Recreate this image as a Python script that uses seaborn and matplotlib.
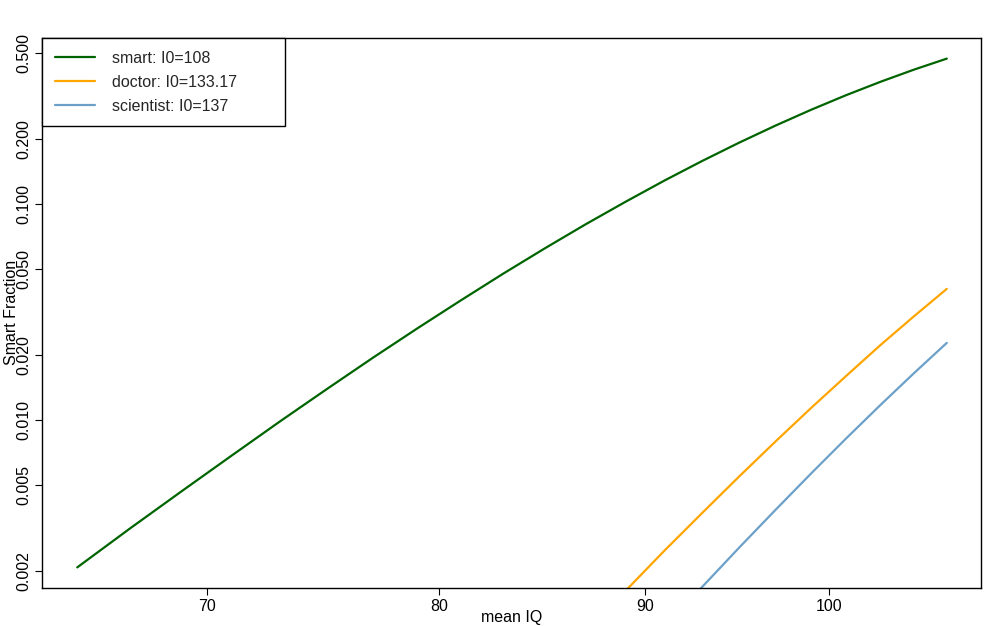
import matplotlib
matplotlib.use('Agg')
import matplotlib.pyplot as plt
import pandas as pd
import seaborn as sns

# values (log-log axes)
smart_iq = [65, 67, 69, 71, 73, 75, 77, 79, 81, 83, 85, 87, 89, 91, 93, 95, 97, 99, 101, 103, 105, 107]
smart_frac = [0.00207, 0.00314, 0.00466, 0.00681, 0.00982, 0.0139, 0.0194, 0.0266, 0.0359, 0.0478,
              0.0626, 0.0808, 0.1026, 0.1286, 0.1587, 0.1931, 0.2317, 0.2743, 0.3204, 0.3694,
              0.4207, 0.4734]

doctor_iq = [87, 89, 91, 93, 95, 97, 99, 101, 103, 105, 107]
doctor_frac = [0.00104, 0.00161, 0.00247, 0.00370, 0.00547, 0.00795, 0.01137, 0.01598, 0.0222,
               0.0302, 0.0405]

scientist_iq = [91, 93, 95, 97, 99, 101, 103, 105, 107]
scientist_frac = [0.00108, 0.00168, 0.00256, 0.00383, 0.00565, 0.00820, 0.01171, 0.01645, 0.02275]

labels = ['smart: I0=108', 'doctor: I0=133.17', 'scientist: I0=137']
colors = ['#006400', '#FFA500', '#6CA0C8']

x_ticks = [70, 80, 90, 100]
y_ticks = [0.5, 0.2, 0.1, 0.05, 0.02, 0.01, 0.005, 0.002]
y_ticklabels = ['0.500', '0.200', '0.100', '0.050', '0.020', '0.010', '0.005', '0.002']

df = pd.concat([
    pd.DataFrame({'iq': smart_iq, 'frac': smart_frac, 'group': labels[0]}),
    pd.DataFrame({'iq': doctor_iq, 'frac': doctor_frac, 'group': labels[1]}),
    pd.DataFrame({'iq': scientist_iq, 'frac': scientist_frac, 'group': labels[2]}),
])

sns.set_theme(style='white')
plt.rcParams['font.family'] = ['Liberation Sans', 'DejaVu Sans']

fig = plt.figure(figsize=(10, 6.26), dpi=100)
ax = fig.add_axes([0.042, 0.0615, 0.9387, 0.8773])

sns.lineplot(data=df, x='iq', y='frac', hue='group', hue_order=labels,
             palette=colors, linewidth=1.6, ax=ax, legend=True)

ax.set_xscale('log')
ax.set_yscale('log')
ax.set_xlim(63.7, 109.1)
ax.set_ylim(0.00167, 0.588)

ax.xaxis.set_major_locator(matplotlib.ticker.FixedLocator(x_ticks))
ax.xaxis.set_minor_locator(matplotlib.ticker.NullLocator())
ax.set_xticklabels([str(t) for t in x_ticks])
ax.yaxis.set_major_locator(matplotlib.ticker.FixedLocator(y_ticks))
ax.yaxis.set_minor_locator(matplotlib.ticker.NullLocator())
ax.set_yticklabels(y_ticklabels, rotation=90, va='center')

ax.tick_params(axis='both', which='major', length=5, width=0.8, color='black',
               labelsize=11.5, labelcolor='black', pad=3, direction='out')
ax.tick_params(axis='x', bottom=True)
ax.tick_params(axis='y', left=True)

for s in ax.spines.values():
    s.set_color('black')
    s.set_linewidth(1.0)

ax.set_xlabel('mean IQ', fontsize=11.5, color='black', va='center')
ax.xaxis.set_label_coords(0.5, -0.054)
ax.set_ylabel('Smart Fraction', fontsize=11.5, color='black', va='center')
ax.yaxis.set_label_coords(-0.032, 0.5)

# legend box is wider than its text, as in the original
leg = ax.legend(loc='upper left', bbox_to_anchor=(0, 0.5, 0.259, 0.5), mode='expand',
                borderaxespad=0, fancybox=False, frameon=True, framealpha=1,
                edgecolor='black', fontsize=11.5, handlelength=2.5, handletextpad=1.1,
                labelspacing=0.55, borderpad=0.8)
leg.get_frame().set_linewidth(1.0)
leg.set_title(None)

fig.savefig('out.png', dpi=100)
